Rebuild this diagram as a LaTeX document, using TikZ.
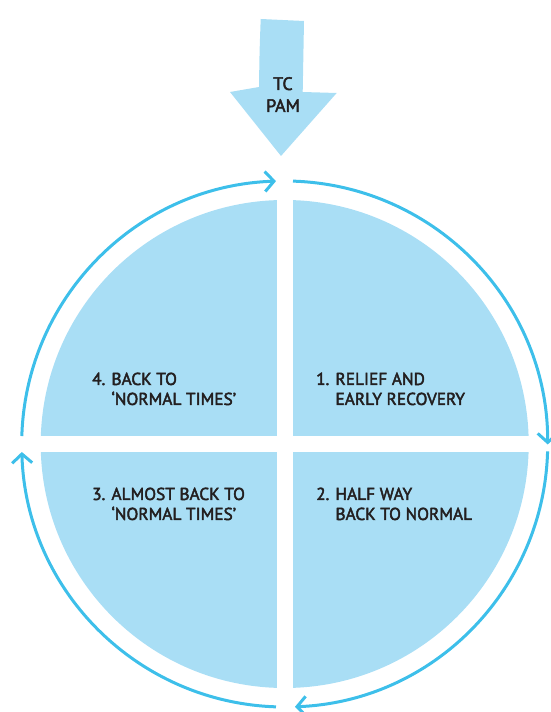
\documentclass[tikz,border=0pt]{standalone}
\usepackage{fontspec}
\setmainfont{PT Sans}
\newfontfamily\dinfont{PT Sans}[FakeBold=2.5]
\usetikzlibrary{arrows.meta}
\definecolor{discblue}{HTML}{A9DEF5}
\definecolor{ringblue}{HTML}{3DBFEA}
\definecolor{txt}{HTML}{231F20}
\tikzset{
  ring/.style={draw=ringblue, line width=3pt, -{Straight Barb[length=9pt,width=20pt]}},
  quad/.style={anchor=base west, inner sep=0pt, text=txt, font=\dinfont\fontsize{17.3}{20}\selectfont},
  pamtext/.style={inner sep=0pt, text=txt, font=\dinfont\fontsize{18}{22}\selectfont, align=center},
}
\begin{document}
\begin{tikzpicture}[x=1pt,y=1pt]
\useasboundingbox (0,0) rectangle (550,712);
\coordinate (c) at (284.7,268);
% disc and cross
\fill[discblue] (c) circle[radius=244];
\fill[white] ([shift={(-8,-250)}]c) rectangle ([shift={(8,250)}]c);
\fill[white] ([shift={(-250,-8)}]c) rectangle ([shift={(250,8)}]c);
% ring arcs (clockwise)
\draw[ring] ([shift={(88.19:263)}]c) arc[start angle=88.19, end angle=-0.1, radius=263];
\draw[ring] ([shift={(-1.6:263)}]c) arc[start angle=-1.6, end angle=-87.76, radius=263];
\draw[ring] ([shift={(-91.9:263)}]c) arc[start angle=-91.9, end angle=-178.26, radius=263];
\draw[ring] ([shift={(178.26:263)}]c) arc[start angle=178.26, end angle=91.9, radius=263];
% top arrow
\fill[discblue] (260.7,693) -- (304,691) -- (302.7,620) -- (336.7,619) -- (281,556) -- (230,620) -- (259,625) .. controls (259.5,660) .. cycle;
\node[pamtext, anchor=base] (tc) at (283,622) {TC};
\node[pamtext, anchor=base] (pam) at (283,600) {PAM};
% quadrant texts
\node[quad] (q1) at (316,327) {\begin{tabular}[t]{@{}l@{}}1. RELIEF AND\\\phantom{1. }EARLY RECOVERY\end{tabular}};
\node[quad] (q2) at (316,212) {\begin{tabular}[t]{@{}l@{}}2. HALF WAY\\\phantom{2. }BACK TO NORMAL\end{tabular}};
\node[quad] (q3) at (92,212) {\begin{tabular}[t]{@{}l@{}}3. ALMOST BACK TO\\\phantom{3. }‘NORMAL TIMES’\end{tabular}};
\node[quad] (q4) at (92,327) {\begin{tabular}[t]{@{}l@{}}4. BACK TO\\\phantom{4. }‘NORMAL TIMES’\end{tabular}};
\end{tikzpicture}
\end{document}
